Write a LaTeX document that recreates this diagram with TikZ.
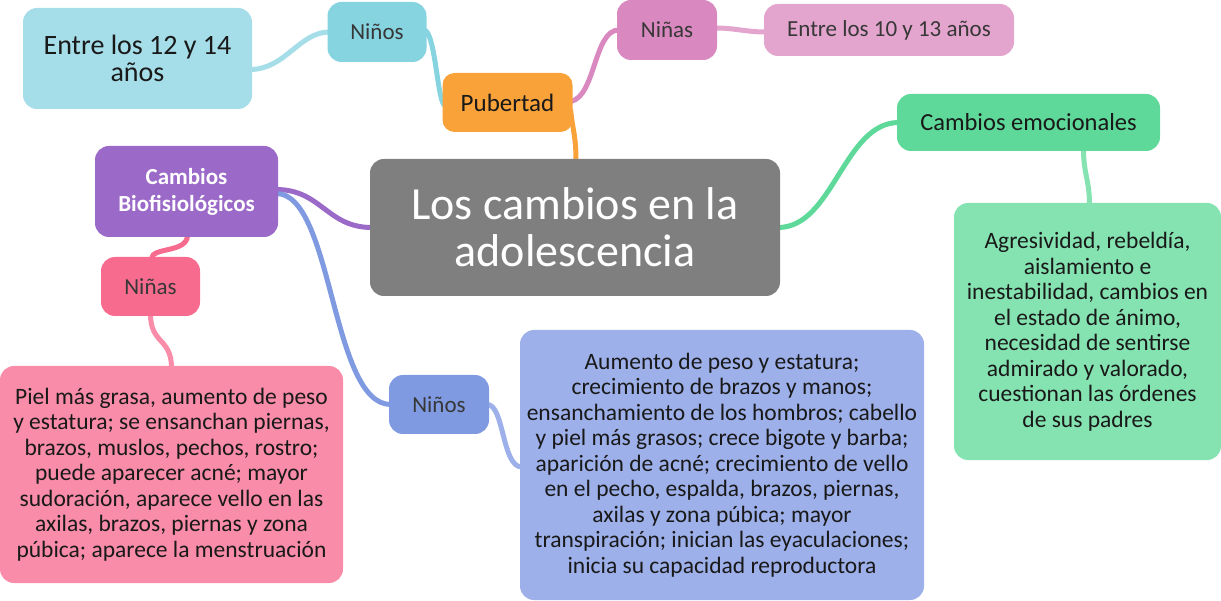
\documentclass[tikz,border=0pt]{standalone}
\usepackage{fontspec}
\setmainfont{Carlito}
\usetikzlibrary{backgrounds,calc}
\definecolor{cCentral}{RGB}{127,127,127}
\definecolor{cPub}{RGB}{249,162,58}
\definecolor{cNinosT}{RGB}{135,212,225}
\definecolor{cE1214}{RGB}{165,221,232}
\definecolor{cNinasT}{RGB}{218,137,192}
\definecolor{cE1013}{RGB}{227,165,206}
\definecolor{cEmoc}{RGB}{94,217,154}
\definecolor{cAgres}{RGB}{133,227,177}
\definecolor{cBiof}{RGB}{155,105,200}
\definecolor{cNinasL}{RGB}{247,107,142}
\definecolor{cPiel}{RGB}{249,140,168}
\definecolor{cNinosB}{RGB}{127,154,225}
\definecolor{cAum}{RGB}{157,176,234}
\definecolor{txt}{RGB}{25,25,25}
\definecolor{txtg}{RGB}{55,55,55}
\tikzset{
  box/.style={rounded corners=14pt, align=center, inner sep=0pt, text=txt},
  conn/.style={line width=5pt, line cap=round},
  body/.style={font=\fontsize{23.5}{25.5}\selectfont},
  small/.style={font=\fontsize{23}{26}\selectfont, text=txtg},
}
\begin{document}
\begin{tikzpicture}[x=1pt,y=-1pt]
\useasboundingbox (0,0) rectangle (1221,601);
% nodes
\node[box, fill=cCentral, minimum width=410pt, minimum height=137pt, text=white,
      font=\fontsize{46}{47}\selectfont] (central) at (575,227.5) {Los cambios en la\\adolescencia};
\node[box, fill=cPub, minimum width=130pt, minimum height=59pt, rounded corners=12pt,
      font=\fontsize{25}{28}\selectfont] (pub) at (507.5,102.5) {Pubertad};
\node[box, small, fill=cNinosT, minimum width=99pt, minimum height=60pt, rounded corners=14pt] (ninosT) at (377,32) {Niños};
\node[box, fill=cE1214, minimum width=229pt, minimum height=101pt,
      font=\fontsize{28}{27}\selectfont] (e1214) at (137.5,58.5) {Entre los 12 y 14\\años};
\node[box, small, fill=cNinasT, minimum width=100pt, minimum height=60pt, rounded corners=14pt] (ninasT) at (667,30) {Niñas};
\node[box, small, fill=cE1013, minimum width=250pt, minimum height=52pt] (e1013) at (889,30) {Entre los 10 y 13 años};
\node[box, fill=cEmoc, minimum width=263pt, minimum height=57pt,
      font=\fontsize{24.5}{27}\selectfont] (emoc) at (1028.5,122.5) {Cambios emocionales};
\node[box, body, fill=cAgres, minimum width=267pt, minimum height=257pt] (agres) at (1087.5,331.5)
  {Agresividad, rebeldía,\\aislamiento e\\inestabilidad, cambios en\\el estado de ánimo,\\necesidad de sentirse\\admirado y valorado,\\cuestionan las órdenes\\de sus padres};
\node[box, fill=cBiof, minimum width=183pt, minimum height=91pt, text=white,
      font=\fontsize{23}{27}\selectfont\bfseries] (biof) at (186.5,191.5) {Cambios\\Biofisiológicos};
\node[box, small, fill=cNinasL, minimum width=99pt, minimum height=59pt, rounded corners=14pt] (ninasL) at (150.5,286.5) {Niñas};
\node[box, body, fill=cPiel, minimum width=343pt, minimum height=217pt] (piel) at (171.5,474.5)
  {Piel más grasa, aumento de peso\\y estatura; se ensanchan piernas,\\brazos, muslos, pechos, rostro;\\puede aparecer acné; mayor\\sudoración, aparece vello en las\\axilas, brazos, piernas y zona\\púbica; aparece la menstruación};
\node[box, small, fill=cNinosB, minimum width=100pt, minimum height=59pt, rounded corners=14pt] (ninosB) at (439,404.5) {Niños};
\node[box, body, fill=cAum, minimum width=404pt, minimum height=270pt] (aum) at (722,465)
  {Aumento de peso y estatura;\\crecimiento de brazos y manos;\\ensanchamiento de los hombros; cabello\\y piel más grasos; crece bigote y barba;\\aparición de acné; crecimiento de vello\\en el pecho, espalda, brazos, piernas,\\axilas y zona púbica; mayor\\transpiración; inician las eyaculaciones;\\inicia su capacidad reproductora};
% connectors
\begin{scope}[on background layer]
\draw[conn, cPub] ($(pub.east)+(-2,8)$) .. controls +(2,20) and +(0,-25) .. ($(central.north)+(1,2)$);
\draw[conn, cNinosT] ($(ninosT.east)+(-3,-2)$) .. controls +(12,0) and +(-8,0) .. ($(pub.west)+(3,3)$);
\draw[conn, cE1214] ($(ninosT.west)+(2,0)$) .. controls +(-30,0) and +(35,0) .. ($(e1214.east)+(-2,11)$);
\draw[conn, cNinasT] ($(pub.east)+(-2,-1)$) .. controls +(25,-5) and +(-25,0) .. ($(ninasT.west)+(2,0)$);
\draw[conn, cE1013] ($(ninasT.east)+(-2,-2)$) .. controls +(20,0) and +(-20,0) .. ($(e1013.west)+(2,2)$);
\draw[conn, cEmoc] ($(central.east)+(-2,0)$) .. controls +(55,0) and +(-55,0) .. ($(emoc.west)+(2,0)$);
\draw[conn, cAgres] ($(emoc.south)+(55,-2)$) .. controls +(0,25) and +(0,-25) .. ($(agres.north)+(2,2)$);
\draw[conn, cBiof] ($(central.west)+(2,0)$) .. controls +(-45,0) and +(45,0) .. ($(biof.east)+(-2,-2)$);
\draw[conn, cNinasL] ($(biof.south)+(1,-2)$) .. controls +(0,18) and +(0,-12) .. ($(ninasL.north)+(1,2)$);
\draw[conn, cPiel] ($(ninasL.south)+(0,-2)$) .. controls +(0,30) and +(0,-30) .. ($(piel.north)+(0,2)$);
\draw[conn, cNinosB] ($(biof.east)+(-2,2)$) .. controls +(57,0) and +(-60,0) .. ($(ninosB.west)+(2,0)$);
\draw[conn, cAum] ($(ninosB.east)+(-2,0)$) .. controls +(17,0) and +(-20,0) .. ($(aum.west)+(2,2)$);
\end{scope}
\end{tikzpicture}
\end{document}
